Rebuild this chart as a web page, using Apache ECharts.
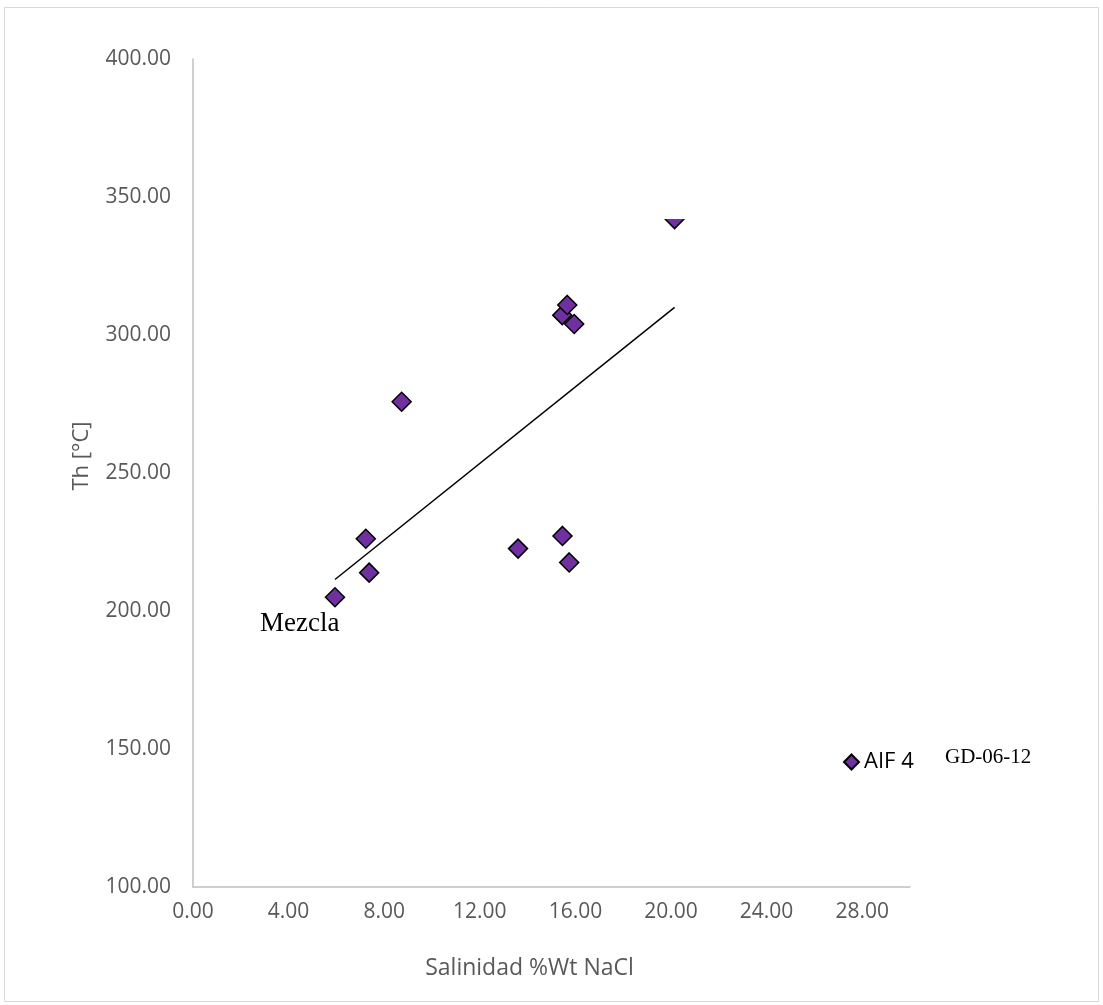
<!DOCTYPE html>
<html>
<head>
<meta charset="utf-8">
<title>Th vs Salinidad</title>
<script src="https://cdn.jsdelivr.net/npm/echarts@6/dist/echarts.min.js"></script>
<style>
  html, body { margin: 0; padding: 0; background: #ffffff; }
  #chart { width: 1103px; height: 1005px; }
</style>
</head>
<body>
<div id="chart"></div>
<script>
// Inclusiones fluidas AIF 4 — salinidad (%Wt NaCl) y temperatura de homogeneización (°C)
const salinidad = [5.94, 7.23, 7.37, 8.73, 13.60, 15.46, 15.74, 15.45, 15.66, 15.95, 20.15];
const th        = [205.0, 226.2, 213.9, 275.8, 222.6, 227.2, 217.6, 307.2, 310.9, 304.0, 342.0];

// Línea de tendencia (extremos)
const tendenciaX = [5.94, 20.15];
const tendenciaY = [211.4, 310.0];

const serieNombre = 'AIF 4';
const muestra = 'GD-06-12';
const etiquetaMezcla = 'Mezcla';

const xTitulo = 'Salinidad %Wt NaCl';
const yTitulo = 'Th [°C]';

const sansFont = "'Open Sans', 'Noto Sans', sans-serif";
const serifFont = "'Liberation Serif', 'DejaVu Serif', serif";

const puntos = salinidad.map((x, i) => [x, th[i]]);
const tendencia = tendenciaX.map((x, i) => [x, tendenciaY[i]]);

const chart = echarts.init(document.getElementById('chart'), null, { renderer: 'canvas' });

const option = {
  backgroundColor: '#ffffff',
  animation: false,
  grid: { left: 193, top: 59, right: 193, bottom: 118, containLabel: false },
  legend: {
    data: [serieNombre],
    left: 838, top: 746,
    icon: 'diamond',
    itemWidth: 15, itemHeight: 15, itemGap: 6,
    textStyle: { fontFamily: sansFont, fontSize: 22, color: '#000000' }
  },
  xAxis: {
    type: 'value',
    min: 0, max: 30, interval: 4,
    name: xTitulo,
    nameLocation: 'middle',
    nameGap: 70,
    nameTextStyle: { fontFamily: sansFont, fontSize: 23, color: '#595959', padding: [0, 44, 0, 0] },
    axisLine: { show: true, lineStyle: { color: '#bfbfbf', width: 1.5 } },
    axisTick: { show: false },
    splitLine: { show: false },
    axisLabel: {
      showMaxLabel: false,
      margin: 15,
      fontFamily: sansFont, fontSize: 21, color: '#595959',
      formatter: v => v.toFixed(2)
    }
  },
  yAxis: {
    type: 'value',
    min: 100, max: 400, interval: 50,
    name: yTitulo,
    nameLocation: 'middle',
    nameGap: 100,
    nameRotate: 90,
    nameTextStyle: { fontFamily: sansFont, fontSize: 22, color: '#595959', padding: [0, 0, 0, 34] },
    axisLine: { show: true, lineStyle: { color: '#bfbfbf', width: 1.5 } },
    axisTick: { show: false },
    splitLine: { show: false },
    axisLabel: {
      margin: 22,
      fontFamily: sansFont, fontSize: 21, color: '#595959',
      formatter: v => v.toFixed(2)
    }
  },
  series: [
    {
      name: serieNombre,
      type: 'scatter',
      data: puntos,
      symbol: 'diamond',
      symbolSize: 19,
      itemStyle: { color: '#7030a0', borderColor: '#000000', borderWidth: 1.5, opacity: 1 },
      z: 2
    },
    {
      name: 'Tendencia',
      type: 'line',
      data: tendencia,
      symbol: 'none',
      lineStyle: { color: '#000000', width: 1.5 },
      z: 3,
      silent: true
    }
  ],
  graphic: [
    {
      type: 'rect',
      shape: { x: 4.5, y: 7.5, width: 1094, height: 994 },
      style: { fill: 'none', stroke: '#d9d9d9', lineWidth: 1 },
      silent: true
    },
    {
      type: 'text',
      left: 260, top: 610,
      style: { text: etiquetaMezcla, font: '27px ' + serifFont, fill: '#000000' }
    },
    {
      type: 'text',
      left: 945, top: 747,
      style: { text: muestra, font: '21px ' + serifFont, fill: '#000000' }
    }
  ]
};

chart.setOption(option);

// Recuadro blanco superpuesto sobre la mitad superior del último punto
const ultimo = chart.convertToPixel({ seriesIndex: 0 }, puntos[puntos.length - 1]);
chart.setOption({
  graphic: [{
    type: 'rect',
    id: 'cubierta',
    shape: { x: ultimo[0] - 18, y: ultimo[1] - 24, width: 36, height: 24 },
    style: { fill: '#ffffff' },
    z: 10,
    silent: true
  }]
});
</script>
</body>
</html>
